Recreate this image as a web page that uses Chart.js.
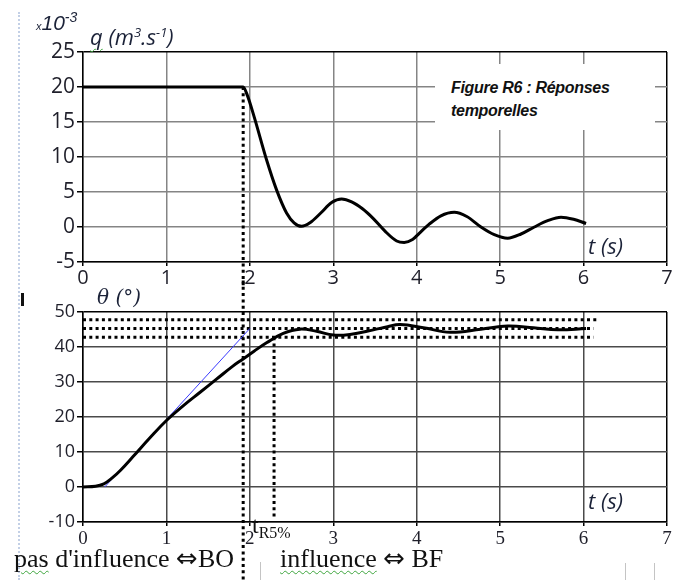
<!DOCTYPE html>
<html>
<head>
<meta charset="utf-8">
<script src="https://cdn.jsdelivr.net/npm/chart.js@4.4.0/dist/chart.umd.min.js"></script>
<style>
body{margin:0;background:#fff;width:681px;height:580px;position:relative;overflow:hidden;}
canvas{position:absolute;left:0;}
#cq{top:0;z-index:1}
#ct{top:280px;z-index:2}
.lbl{position:absolute;white-space:nowrap;line-height:1;color:#1b2238;z-index:5}
.it{font-family:"Open Sans",sans-serif;font-style:italic}
.serif{font-family:"Liberation Serif",serif;color:#111}
.arrow{font-family:"DejaVu Sans",sans-serif;font-size:26px}
.sq{text-decoration:underline wavy #3fa63f;text-decoration-thickness:1px;text-underline-offset:3px}
#box{position:absolute;left:435px;top:64px;width:220px;height:66px;background:#fff;z-index:3}
#fig{position:absolute;left:451px;top:76px;font:italic bold 16px "Liberation Sans",Arial,sans-serif;letter-spacing:-0.3px;line-height:23px;color:#111;z-index:4}
.vbar{position:absolute;width:1px;background:#c4c4c4;z-index:5}
#ruler{position:absolute;left:18px;top:12px;height:568px;border-left:2px dotted #c3d0e6;z-index:0}
#cursor{position:absolute;left:21px;top:293px;width:3px;height:13px;background:#111;z-index:5}
</style>
</head>
<body>
<div id="ruler"></div>
<div id="cursor"></div>
<canvas id="cq" width="681" height="300"></canvas>
<canvas id="ct" width="681" height="300"></canvas>

<div id="box"></div>
<div id="fig">Figure R6 : Réponses<br>temporelles</div>

<div class="lbl" style="left:36px;top:9px;font:italic 21px 'Liberation Sans',sans-serif;color:#1b2238"><span style="font-size:11px">x</span>10<sup style="font-size:14px">-3</sup></div>
<div class="lbl it" style="left:90px;top:25px;font-size:22px"><span class="sq">q</span> (m<sup style="font-size:13px">3</sup>.s<sup style="font-size:13px">-1</sup>)</div>
<div class="lbl it" style="left:588px;top:234px;font-size:22px">t (s)</div>

<div class="lbl it" style="left:97px;top:287px;font-size:20px;font-family:'DejaVu Serif',serif">θ (°)</div>
<div class="lbl it" style="left:588px;top:489px;font-size:22px">t (s)</div>
<div class="lbl serif" style="left:252px;top:513px;font-size:24px">t<span style="font-size:16px;position:relative;top:5px">R5%</span></div>

<div class="lbl serif" style="left:14px;top:545px;font-size:26px"><span class="sq">pas</span> d'influence <span class="arrow">⇔</span>BO</div>
<div class="lbl serif" style="left:280px;top:545px;font-size:26px"><span class="sq">influence</span> <span class="arrow">⇔</span> BF</div>
<div class="vbar" style="left:260px;top:562px;height:18px"></div>
<div class="vbar" style="left:625px;top:563px;height:17px"></div>
<div class="vbar" style="left:654px;top:563px;height:17px"></div>

<script>
// axes
const tTicks = [0, 1, 2, 3, 4, 5, 6, 7];
const qTicks = [-5, 0, 5, 10, 15, 20, 25];
const thetaTicks = [-10, 0, 10, 20, 30, 40, 50];

// débit q (x10^-3 m3/s)
const tQ = [0, 1.92, 1.97, 2.05, 2.2, 2.32, 2.44, 2.53, 2.62, 2.72, 2.85, 2.98, 3.1, 3.22, 3.35, 3.48, 3.62, 3.76, 3.85, 3.95, 4.03, 4.15, 4.29, 4.45, 4.6, 4.77, 4.93, 5.09, 5.25, 5.41, 5.57, 5.73, 5.88, 6.03];
const qValues = [20, 20, 18.8, 15.8, 9.6, 5.3, 2.0, 0.6, 0.1, 0.6, 2.0, 3.5, 4.0, 3.6, 2.6, 1.2, -0.6, -2.0, -2.2, -1.8, -0.9, 0.4, 1.6, 2.1, 1.5, 0, -1.1, -1.6, -1.0, 0, 0.9, 1.4, 1.1, 0.5];

// angle theta (deg)
const tTheta = [0, 0.15, 0.25, 0.35, 0.45, 0.6, 0.8, 1.0, 1.2, 1.4, 1.6, 1.8, 1.92, 2.05, 2.2, 2.4, 2.6, 2.8, 3.0, 3.2, 3.48, 3.65, 3.8, 4.08, 4.4, 4.77, 5.09, 5.4, 5.69, 6.03];
const thetaValues = [0, 0.2, 0.9, 2.6, 4.8, 8.7, 14, 19, 23.2, 27, 30.8, 34.6, 36.6, 38.8, 41.2, 43.9, 45.1, 44.5, 43.4, 43.6, 44.9, 45.8, 46.4, 45.5, 44.2, 45.1, 46.0, 45.5, 44.9, 45.3];

// constructions
const tCut = 1.92;
const tR5 = 2.29;
const bandLevels = [47.8, 45.3, 42.8];
const bandEnds = [6.17, 6.12, 6.12];
const tangentT = [0.26, 2.0];
const tangentTheta = [0, 45.3];

function pts(xs, ys){
	let out = [];
	for(let i = 0; i < xs.length; i++){
		out.push({x: xs[i], y: ys[i]});
	}
	return out;
}

function dotted(data){
	return {
		data: data,
		borderColor: "#000",
		borderWidth: 3,
		borderDash: [3, 3.3],
		pointRadius: 0,
		showLine: true,
		tension: 0,
		clip: false
	};
}

function axes(yTicks, o){
	const ymax = yTicks[yTicks.length - 1];
	const xmax = tTicks[tTicks.length - 1];
	return {
		x: {
			type: "linear", min: tTicks[0], max: xmax,
			afterBuildTicks: s => { s.ticks = tTicks.map(v => ({value: v})); },
			afterFit: s => { s.height = o.xHeight; },
			grid: {
				color: c => (c.tick && c.tick.value === xmax) ? "#000" : o.gridColor,
				lineWidth: 1.5, tickLength: 4, tickColor: "#000"
			},
			border: {color: "#000", width: 1.5},
			ticks: {font: o.xFont, color: "#1f1f2a", padding: o.xPad, maxRotation: 0, autoSkip: false}
		},
		y: {
			type: "linear", min: yTicks[0], max: ymax,
			afterBuildTicks: s => { s.ticks = yTicks.map(v => ({value: v})); },
			afterFit: s => { s.width = 83; },
			grid: {
				color: c => (c.tick && c.tick.value === ymax) ? "#000" : o.gridColor,
				lineWidth: 1.5, tickLength: 6, tickColor: "#000"
			},
			border: {color: "#000", width: 1.5},
			ticks: {font: o.yFont, color: "#1f1f2a", padding: 2, autoSkip: false}
		}
	};
}

function baseOptions(top, scales){
	return {
		responsive: false,
		animation: false,
		layout: {padding: {left: 0, right: 14, top: top, bottom: 0}},
		plugins: {legend: {display: false}, tooltip: {enabled: false}},
		scales: scales
	};
}

// --- q chart
let qDatasets = [
	{data: pts(tQ, qValues), borderColor: "#000", borderWidth: 3, pointRadius: 0, showLine: true, tension: 0.4, cubicInterpolationMode: "monotone"},
	dotted(pts([tCut, tCut], [qValues[1], -8.4]))
];

new Chart(document.getElementById("cq").getContext("2d"), {
	type: "scatter",
	data: {datasets: qDatasets},
	options: baseOptions(52, axes(qTicks, {
		xHeight: 38, xPad: 0, gridColor: "#858585",
		xFont: {family: "Open Sans", size: 20},
		yFont: {family: "Open Sans", size: 21}
	}))
});

// --- theta chart
let thDatasets = [
	{data: pts(tTheta, thetaValues), borderColor: "#000", borderWidth: 3, pointRadius: 0, showLine: true, tension: 0.4},
	{data: pts(tangentT, tangentTheta), borderColor: "#3a3aff", borderWidth: 1, pointRadius: 0, showLine: true, tension: 0}
];
for(let i = 0; i < bandLevels.length; i++){
	thDatasets.push(dotted(pts([0, bandEnds[i]], [bandLevels[i], bandLevels[i]])));
}
thDatasets.push(dotted(pts([tCut, tCut], [59, -27])));
thDatasets.push(dotted(pts([tR5, tR5], [bandLevels[2], -8.5])));

new Chart(document.getElementById("ct").getContext("2d"), {
	type: "scatter",
	data: {datasets: thDatasets},
	options: baseOptions(32, axes(thetaTicks, {
		xHeight: 58, xPad: 2, gridColor: "#4a4a4a",
		xFont: {family: "Liberation Serif", size: 19},
		yFont: {family: "Open Sans", size: 18}
	}))
});
</script>
</body>
</html>
